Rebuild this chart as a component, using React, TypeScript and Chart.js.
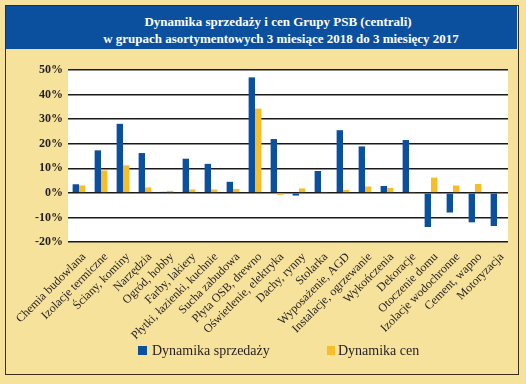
import React, { useEffect, useRef } from "react";
import { Chart, registerables } from "chart.js";

Chart.register(...registerables);

const titleLines = [
  "Dynamika sprzedaży i cen Grupy PSB (centrali)",
  "w grupach asortymentowych 3 miesiące 2018 do 3 miesięcy 2017",
];

const categories = [
  "Chemia budowlana",
  "Izolacje termiczne",
  "Ściany, kominy",
  "Narzędzia",
  "Ogród, hobby",
  "Farby, lakiery",
  "Płytki, łazienki, kuchnie",
  "Sucha zabudowa",
  "Płyta OSB, drewno",
  "Oświetlenie, elektryka",
  "Dachy, rynny",
  "Stolarka",
  "Wyposażenie, AGD",
  "Instalacje, ogrzewanie",
  "Wykończenia",
  "Dekoracje",
  "Otoczenie domu",
  "Izolacje wodochronne",
  "Cement, wapno",
  "Motoryzacja",
];

const seriesLabels = ["Dynamika sprzedaży", "Dynamika cen"];

const salesDynamics = [
  3.5, 17.3, 28.1, 16.2, 0.4, 13.9, 11.8, 4.5, 47.0, 21.9, -1.1, 8.9, 25.5,
  18.9, 2.8, 21.5, -13.9, -8.0, -12.0, -13.5,
];

const priceDynamics = [
  3.0, 9.1, 11.2, 2.2, 0.8, 1.4, 1.4, 1.6, 34.3, -0.8, 1.8, 0.4, 1.2, 2.6, 2.0,
  0.4, 6.2, 3.0, 3.6, 0.4,
];

const yMin = -20;
const yMax = 50;
const yStep = 10;

const BLUE = "#0b4f9f";
const YELLOW = "#f7be28";
const BG = "#f7e29c";
const INK = "#231f20";

const plotBgPlugin = {
  id: "plotBg",
  beforeDraw(chart: any) {
    const { ctx, chartArea } = chart;
    if (!chartArea) return;
    ctx.save();
    ctx.fillStyle = "#ffffff";
    ctx.fillRect(
      chartArea.left,
      chartArea.top,
      chartArea.right - chartArea.left,
      chartArea.bottom - chartArea.top
    );
    ctx.restore();
  },
};

const customLegendPlugin = {
  id: "customLegend",
  afterDraw(chart: any) {
    const { ctx } = chart;
    const items = [
      { boxX: 138, boxW: 9, textX: 152 },
      { boxX: 327, boxW: 8, textX: 338 },
    ];
    const y = 351;
    ctx.save();
    ctx.font = "14px 'Liberation Serif', serif";
    ctx.textBaseline = "middle";
    chart.data.datasets.forEach((ds: any, i: number) => {
      const it = items[i];
      if (!it) return;
      ctx.fillStyle = ds.backgroundColor;
      ctx.fillRect(it.boxX, y - 5, it.boxW, 9);
      ctx.fillStyle = INK;
      ctx.fillText(ds.label, it.textX, y);
    });
    ctx.restore();
  },
};

export default function App() {
  const canvasRef = useRef<HTMLCanvasElement | null>(null);

  useEffect(() => {
    document.body.style.margin = "0";
    const canvas = canvasRef.current;
    if (!canvas) return;
    const chart = new Chart(canvas, {
      type: "bar",
      data: {
        labels: categories,
        datasets: [
          {
            label: seriesLabels[0],
            data: salesDynamics,
            backgroundColor: BLUE,
            categoryPercentage: 0.58,
            barPercentage: 1,
          },
          {
            label: seriesLabels[1],
            data: priceDynamics,
            backgroundColor: YELLOW,
            categoryPercentage: 0.58,
            barPercentage: 1,
          },
        ],
      },
      options: {
        animation: false,
        responsive: false,
        maintainAspectRatio: false,
        layout: { padding: { left: 0, right: 18, top: 70, bottom: 0 } },
        plugins: {
          legend: { display: false },
          title: { display: false },
          tooltip: { enabled: false },
        },
        scales: {
          x: {
            grid: { display: false, drawTicks: false },
            border: { display: false },
            ticks: {
              color: INK,
              font: { family: "'Liberation Serif', serif", size: 12 },
              minRotation: 45,
              maxRotation: 45,
              autoSkip: false,
              padding: 8,
              labelOffset: 5,
            },
            afterFit(scale: any) {
              scale.height = 142;
            },
          },
          y: {
            min: yMin,
            max: yMax,
            grid: {
              color: "#1a1a1a",
              lineWidth: 1.5,
              drawTicks: false,
            },
            border: { display: false },
            ticks: {
              stepSize: yStep,
              color: INK,
              padding: 5,
              font: { family: "'Liberation Serif', serif", size: 12, weight: "bold" },
              callback: (v: any) => `${v}%`,
            },
            afterFit(scale: any) {
              scale.width = 68;
            },
          },
        },
      },
      plugins: [plotBgPlugin, customLegendPlugin],
    } as any);
    return () => chart.destroy();
  }, []);

  return (
    <div
      style={{
        position: "absolute",
        left: 0,
        top: 0,
        width: 526,
        height: 384,
        background: BG,
        overflow: "hidden",
      }}
    >
      <div
        style={{
          position: "absolute",
          left: 5,
          top: 5,
          width: 514,
          height: 370,
          border: "1px solid #3a2c1c",
          boxSizing: "border-box",
        }}
      />
      <div
        style={{
          position: "absolute",
          left: 6,
          top: 6,
          width: 511,
          height: 43,
          background: BLUE,
          color: "#ffffff",
          fontFamily: "'Liberation Serif', serif",
          fontWeight: "bold",
          fontSize: 13,
          lineHeight: "17px",
        }}
      >
        <div style={{ position: "absolute", left: 33, top: 7, width: 478, textAlign: "center", whiteSpace: "nowrap" }}>
          {titleLines[0]}
        </div>
        <div style={{ position: "absolute", left: 36, top: 24, width: 478, textAlign: "center", whiteSpace: "nowrap" }}>
          {titleLines[1]}
        </div>
      </div>
      <canvas
        ref={canvasRef}
        width={526}
        height={384}
        style={{ position: "absolute", left: 0, top: 0, width: 526, height: 384 }}
      />
    </div>
  );
}
